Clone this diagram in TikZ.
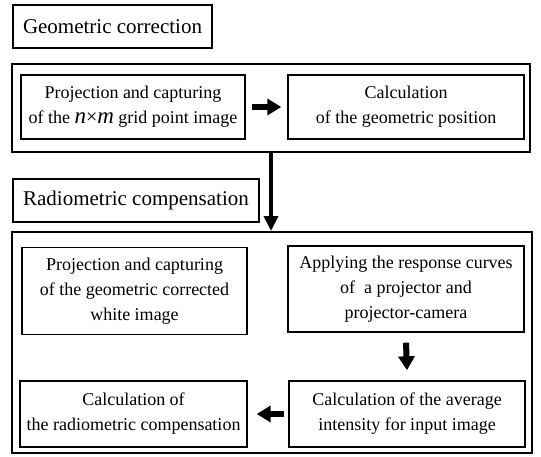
\documentclass[tikz,border=0pt]{standalone}
\usepackage{fontspec}
\setmainfont{Liberation Serif}
\usetikzlibrary{arrows.meta}
\begin{document}
\begin{tikzpicture}[x=1pt,y=-1pt,
  titlebox/.style={draw, line width=2.6pt, inner sep=0pt, font=\fontsize{21}{25}\selectfont},
  outerbox/.style={draw, line width=2pt, inner sep=0pt},
  stepbox/.style={draw, line width=1.4pt, inner sep=0pt, align=center, font=\fontsize{18}{25}\selectfont},
  fatarrow/.style={line width=6pt, -{Triangle[length=14pt,width=16pt]}},
  vertarrow/.style={line width=4.5pt, -{Triangle[length=15pt,width=14pt]}}
]
\useasboundingbox (0,0) rectangle (541,456);
% titles
\node[titlebox, minimum width=199pt, minimum height=43pt] (t1) at (112.5,26.5) {Geometric correction};
\node[titlebox, minimum width=246pt, minimum height=43pt] (t2) at (136,200.5) {Radiometric compensation};
% outer boxes
\node[outerbox, minimum width=518pt, minimum height=88pt] (o1) at (271,108) {};
\node[outerbox, minimum width=520pt, minimum height=221pt] (o2) at (272,342.5) {};
% step boxes
\node[stepbox, minimum width=224pt, minimum height=64pt] (a1) at (133,107)
  {Projection and capturing\\of the {\fontsize{23}{25}\selectfont\itshape n}{\fontsize{20}{25}\selectfont×}{\fontsize{23}{25}\selectfont\itshape m} grid point image};
\node[stepbox, minimum width=236pt, minimum height=64pt] (b1) at (406,107)
  {Calculation\\of the geometric position};
\node[stepbox, minimum width=225pt, minimum height=87pt] (c) at (134.5,291)
  {Projection and capturing\\of the geometric corrected\\white image};
\node[stepbox, minimum width=236pt, minimum height=86pt] (d) at (406,289)
  {Applying the response curves\\of\ \ a projector and\\projector-camera};
\node[stepbox, minimum width=236pt, minimum height=66pt] (e) at (407,414)
  {Calculation of the average\\intensity for input image};
\node[stepbox, minimum width=227pt, minimum height=66pt] (f) at (133.5,414)
  {Calculation of\\the radiometric compensation};
% arrows
\draw[fatarrow] ([xshift=6pt]a1.east) -- ([xshift=-6pt]b1.west);
\draw[vertarrow] (o1.south) -- (o1.south |- o2.north);
\draw[fatarrow] ([yshift=-10pt]d.south) -- ([yshift=10pt]e.north);
\draw[fatarrow] ([xshift=-4pt]e.west) -- ([xshift=9pt]f.east);
\end{tikzpicture}
\end{document}
